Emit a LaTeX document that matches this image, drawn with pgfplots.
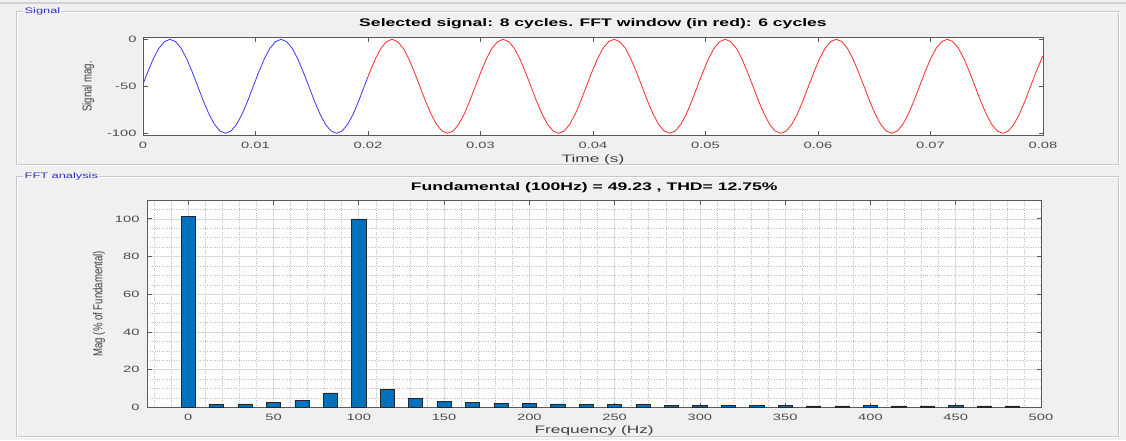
\documentclass[border=0pt]{standalone}
\usepackage{fontspec}
\setmainfont[FakeStretch=1.6]{Liberation Sans}
\newfontfamily\ylfont{Liberation Sans}
\usepackage{pgfplots}
\pgfplotsset{compat=1.18}
\definecolor{bg}{HTML}{F0F0F0}
\definecolor{panelblue}{HTML}{3030C8}
\definecolor{matblue}{HTML}{0072BD}
\definecolor{sigblue}{HTML}{3838FF}
\definecolor{sigred}{HTML}{FF2A2A}
\begin{document}
\begin{tikzpicture}
\useasboundingbox (0,0) rectangle (1126pt,440pt);
\fill[bg] (0,0) rectangle (1126pt,440pt);
\draw[black!18, line width=1.2pt] (0,437pt) -- (1126pt,437pt);
% panels
\draw[black!22, line width=0.8pt] (16pt,276pt) rectangle (1118pt,428.3pt);
\draw[white, line width=0.8pt] (17pt,275pt) rectangle (1119pt,427.3pt);
\draw[black!22, line width=0.8pt] (16pt,3.3pt) rectangle (1118pt,263.5pt);
\draw[white, line width=0.8pt] (17pt,2.3pt) rectangle (1119pt,262.5pt);
\node[fill=bg, text=panelblue, font=\fontsize{8}{8}\selectfont, inner sep=1.5pt, anchor=west] at (23pt,428.3pt) {Signal};
\node[fill=bg, text=panelblue, font=\fontsize{8}{8}\selectfont, inner sep=1.5pt, anchor=west] at (23pt,263.5pt) {FFT analysis};

\begin{axis}[
 at={(143pt,305pt)}, anchor=south west, scale only axis, width=900pt, height=97.3pt,
 xmin=0, xmax=0.08, ymin=-101.8, ymax=1.7,
 scaled x ticks=false, scaled y ticks=false,
 xtick={0,0.01,0.02,0.03,0.04,0.05,0.06,0.07,0.08},
 xticklabels={0,0.01,0.02,0.03,0.04,0.05,0.06,0.07,0.08},
 ytick={-100,-50,0}, yticklabels={-100,-50,0},
 axis background/.style={fill=white},
 tick align=inside, major tick length=4.5pt,
 axis line style={draw=black!65, line width=0.7pt},
 every tick/.style={draw=black!65, line width=0.7pt},
 xticklabel style={anchor=center, yshift=-10.7pt},
 yticklabel style={anchor=east, xshift=-3pt},
 tick label style={font=\fontsize{9.2}{9.2}\selectfont, text=black!70},
 title={Selected signal: 8 cycles. FFT window (in red): 6 cycles},
 title style={font=\bfseries\fontsize{11}{11}\selectfont, at={(axis description cs:0.5,1)}, anchor=base, yshift=5.4pt, inner sep=0pt},
 xlabel={Time (s)},
 xlabel style={at={(axis description cs:0.5,0)}, anchor=base, yshift=-27.3pt, inner sep=0pt, font=\fontsize{10.8}{10.8}\selectfont, text=black!75},
 ylabel={\scalebox{1}[1.35]{Signal mag.}},
 ylabel style={at={(axis description cs:-0.0608,0.5)}, anchor=center, font=\ylfont\fontsize{9.6}{9.6}\selectfont, text=black!75},
]
\addplot[sigblue, line width=0.8pt, line join=round] coordinates {
(0,-47.8) (0.00043,-34.55) (0.00092,-20.61) (0.00141,-9.55) (0.00191,-2.45)
(0.00240,0) (0.00289,-2.45) (0.00339,-9.55) (0.00388,-20.61) (0.00437,-34.55) (0.00487,-50) (0.00536,-65.45) (0.00586,-79.39) (0.00635,-90.45) (0.00684,-97.55) (0.00734,-100) (0.00783,-97.55) (0.00832,-90.45) (0.00882,-79.39) (0.00931,-65.45) (0.00980,-50) (0.01030,-34.55) (0.01079,-20.61) (0.01128,-9.55) (0.01178,-2.45)
(0.01227,0) (0.01276,-2.45) (0.01326,-9.55) (0.01375,-20.61) (0.01424,-34.55) (0.01474,-50) (0.01523,-65.45) (0.01573,-79.39) (0.01622,-90.45) (0.01671,-97.55) (0.01721,-100) (0.01770,-97.55) (0.01819,-90.45) (0.01869,-79.39) (0.01918,-65.45) (0.01967,-50) (0.02,-39.7)
};
\addplot[sigred, line width=0.8pt, line join=round] coordinates {
(0.02,-39.7) (0.02017,-34.55) (0.02066,-20.61) (0.02115,-9.55) (0.02165,-2.45)
(0.02214,0) (0.02263,-2.45) (0.02313,-9.55) (0.02362,-20.61) (0.02411,-34.55) (0.02461,-50) (0.02510,-65.45) (0.02560,-79.39) (0.02609,-90.45) (0.02658,-97.55) (0.02708,-100) (0.02757,-97.55) (0.02806,-90.45) (0.02856,-79.39) (0.02905,-65.45) (0.02954,-50) (0.03004,-34.55) (0.03053,-20.61) (0.03102,-9.55) (0.03152,-2.45)
(0.03201,0) (0.03250,-2.45) (0.03300,-9.55) (0.03349,-20.61) (0.03398,-34.55) (0.03448,-50) (0.03497,-65.45) (0.03547,-79.39) (0.03596,-90.45) (0.03645,-97.55) (0.03695,-100) (0.03744,-97.55) (0.03793,-90.45) (0.03843,-79.39) (0.03892,-65.45) (0.03941,-50) (0.03991,-34.55) (0.04040,-20.61) (0.04089,-9.55) (0.04139,-2.45)
(0.04188,0) (0.04237,-2.45) (0.04287,-9.55) (0.04336,-20.61) (0.04385,-34.55) (0.04435,-50) (0.04484,-65.45) (0.04534,-79.39) (0.04583,-90.45) (0.04632,-97.55) (0.04682,-100) (0.04731,-97.55) (0.04780,-90.45) (0.04830,-79.39) (0.04879,-65.45) (0.04928,-50) (0.04978,-34.55) (0.05027,-20.61) (0.05076,-9.55) (0.05126,-2.45)
(0.05175,0) (0.05224,-2.45) (0.05274,-9.55) (0.05323,-20.61) (0.05372,-34.55) (0.05422,-50) (0.05471,-65.45) (0.05521,-79.39) (0.05570,-90.45) (0.05619,-97.55) (0.05669,-100) (0.05718,-97.55) (0.05767,-90.45) (0.05817,-79.39) (0.05866,-65.45) (0.05915,-50) (0.05965,-34.55) (0.06014,-20.61) (0.06063,-9.55) (0.06113,-2.45)
(0.06162,0) (0.06211,-2.45) (0.06261,-9.55) (0.06310,-20.61) (0.06359,-34.55) (0.06409,-50) (0.06458,-65.45) (0.06508,-79.39) (0.06557,-90.45) (0.06606,-97.55) (0.06656,-100) (0.06705,-97.55) (0.06754,-90.45) (0.06804,-79.39) (0.06853,-65.45) (0.06902,-50) (0.06952,-34.55) (0.07001,-20.61) (0.07050,-9.55) (0.07100,-2.45)
(0.07149,0) (0.07198,-2.45) (0.07248,-9.55) (0.07297,-20.61) (0.07346,-34.55) (0.07396,-50) (0.07445,-65.45) (0.07495,-79.39) (0.07544,-90.45) (0.07593,-97.55) (0.07643,-100) (0.07692,-97.55) (0.07741,-90.45) (0.07791,-79.39) (0.07840,-65.45) (0.07889,-50) (0.07939,-34.55) (0.07988,-20.61) (0.08,-17.6)
};
\end{axis}

\begin{axis}[
 at={(147.3pt,32.7pt)}, anchor=south west, scale only axis, width=893.7pt, height=207.3pt,
 xmin=-24, xmax=500, ymin=0, ymax=110,
 ybar, bar width=8.33,
 xtick={0,50,100,150,200,250,300,350,400,450,500},
 xticklabels={0,50,100,150,200,250,300,350,400,450,500},
 ytick={0,20,40,60,80,100}, yticklabels={0,20,40,60,80,100},
 minor xtick={-20,-10,10,20,30,40,60,70,80,90,110,120,130,140,160,170,180,190,210,220,230,240,260,270,280,290,310,320,330,340,360,370,380,390,410,420,430,440,460,470,480,490},
 minor ytick={5,10,15,25,30,35,45,50,55,65,70,75,85,90,95,105},
 grid=both,
 major grid style={draw=black!14, line width=0.6pt},
 minor grid style={draw=black!25, dotted, line width=0.5pt},
 minor tick length=0pt,
 axis background/.style={fill=white},
 tick align=inside, major tick length=4.5pt,
 axis line style={draw=black!65, line width=0.7pt},
 every tick/.style={draw=black!65, line width=0.7pt},
 xticklabel style={anchor=center, yshift=-9.7pt},
 yticklabel style={anchor=east, xshift=-4.3pt},
 tick label style={font=\fontsize{9.2}{9.2}\selectfont, text=black!70},
 title={Fundamental (100Hz) = 49.23 , THD= 12.75\%},
 title style={font=\bfseries\fontsize{11}{11}\selectfont, at={(axis description cs:0.5,1)}, anchor=base, yshift=3.8pt, inner sep=0pt},
 xlabel={Frequency (Hz)},
 xlabel style={at={(axis description cs:0.5,0)}, anchor=base, yshift=-26pt, inner sep=0pt, font=\fontsize{10.8}{10.8}\selectfont, text=black!75},
 ylabel={\scalebox{1}[1.35]{Mag (\% of Fundamental)}},
 ylabel style={at={(axis description cs:-0.054,0.5)}, anchor=center, font=\ylfont\fontsize{9.6}{9.6}\selectfont, text=black!75},
]
\addplot[fill=matblue, draw=black!85, line width=0.6pt] coordinates {
(0,101.1) (16.667,1.4) (33.333,1.8) (50,2.6) (66.667,3.7) (83.333,7.6)
(100,100) (116.667,9.7) (133.333,4.9) (150,3.3) (166.667,2.6) (183.333,2.2)
(200,1.9) (216.667,1.8) (233.333,1.4) (250,1.6) (266.667,1.4) (283.333,1.1)
(300,1.1) (316.667,1.1) (333.333,1.1) (350,1.2) (366.667,0.7) (383.333,0.7)
(400,0.9) (416.667,0.7) (433.333,0.7) (450,1.0) (466.667,0.7) (483.333,0.7)
};
\end{axis}
\end{tikzpicture}
\end{document}
